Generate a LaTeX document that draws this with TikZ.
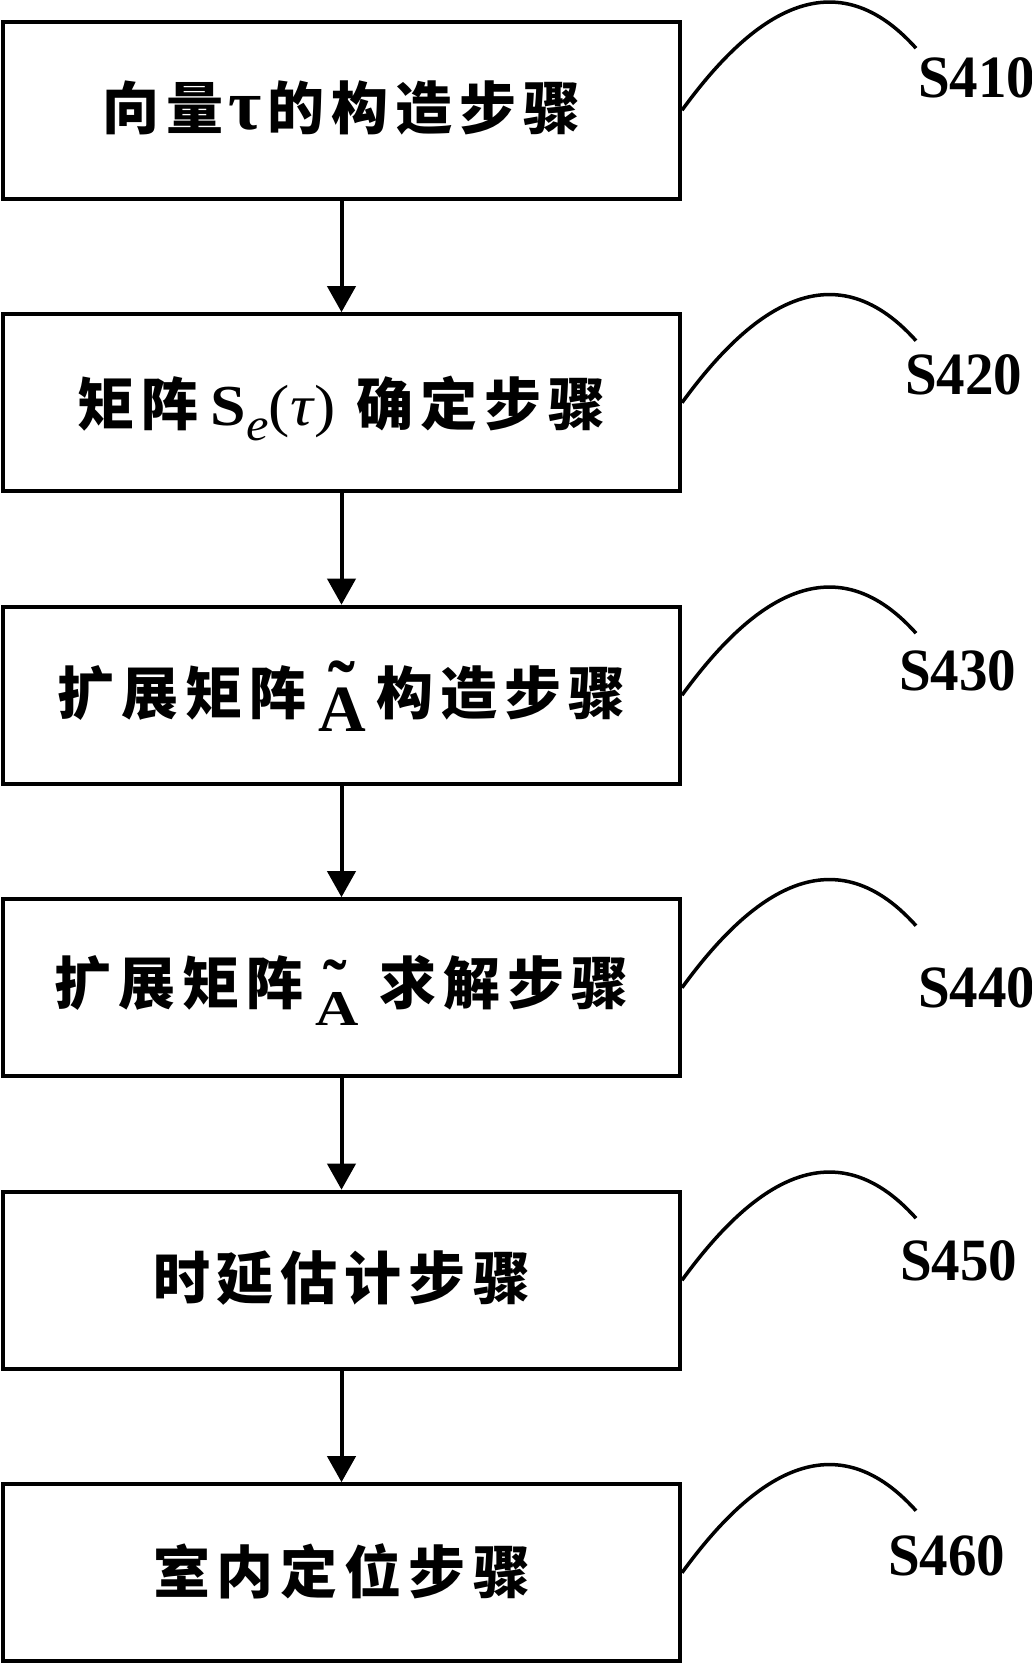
\documentclass[tikz,border=0pt]{standalone}
\usepackage{fontspec}
\usepackage{graphicx}
\setmainfont{Liberation Serif}
\newfontfamily\cjk{Noto Sans CJK SC}
\usetikzlibrary{arrows.meta,calc}
\newcommand\cgap{\hspace{7pt}}
\newcommand\cjkb{\cjk\bfseries\fontsize{57}{57}\selectfont}
% #1 size, #2 lowering, #3 tilde raise, #4 tilde shift, #5 tilde size, #6 A xscale
\newcommand\tA[6]{\raisebox{-#2}{\rmfamily\bfseries
  \rlap{\hspace{#4}\raisebox{#3}{\fontsize{#5}{#5}\selectfont ˜}}%
  \fontsize{#1}{#1}\selectfont\scalebox{#6}[1]{A}}}
\begin{document}
\begin{tikzpicture}[x=1pt,y=-1pt,
  stepbox/.style={draw, line width=4pt, minimum width=677pt, minimum height=177pt,
    inner sep=0pt, text depth=0pt, text height=40pt},
  flow/.style={line width=4pt, -{Triangle[width=28pt,length=26pt]}},
  leader/.style={line width=3.5pt},
  lab/.style={anchor=base west, inner sep=0pt, font=\bfseries\fontsize{60}{60}\selectfont}]
\useasboundingbox (0,0) rectangle (1031,1664);

\node[stepbox, text height=38pt] (b1) at (341.5,110.2)
  {{\cjkb 向\cgap 量}\hspace{5pt}{\bfseries\fontsize{72}{72}\selectfont τ}\hspace{5pt}{\cjkb 的\cgap 构\cgap 造\cgap 步\cgap 骤}};
\node[stepbox, text height=45pt] (b2) at (341.5,402.7)
  {{\cjkb 矩\cgap 阵}\hspace{12pt}\scalebox{1.1}[1]{\fontsize{58}{58}\selectfont\textbf{S}\raisebox{-15pt}{\fontsize{46}{46}\selectfont\itshape e}(\textit{τ})}\hspace{20pt}{\cjkb 确\cgap 定\cgap 步\cgap 骤}};
\node[stepbox, text height=38pt] (b3) at (341.5,695.2)
  {{\cjkb 扩\cgap 展\cgap 矩\cgap 阵}\hspace{12pt}\tA{66pt}{17.5pt}{15pt}{10pt}{80pt}{1}\hspace{10pt}{\cjkb 构\cgap 造\cgap 步\cgap 骤}};
\node[stepbox, text height=34pt] (b4) at (341.5,987.7)
  {{\cjkb 扩\cgap 展\cgap 矩\cgap 阵}\hspace{12pt}\tA{50pt}{20.5pt}{17pt}{8pt}{70pt}{1.2}\hspace{20pt}{\cjkb 求\cgap 解\cgap 步\cgap 骤}};
\node[stepbox, text height=38pt] (b5) at (341.5,1280.2)
  {\cjkb 时\cgap 延\cgap 估\cgap 计\cgap 步\cgap 骤};
\node[stepbox, text height=41pt] (b6) at (341.5,1572.7)
  {\cjkb 室\cgap 内\cgap 定\cgap 位\cgap 步\cgap 骤};

\draw[flow] (b1.south) -- (b2.north);
\draw[flow] (b2.south) -- (b3.north);
\draw[flow] (b3.south) -- (b4.north);
\draw[flow] (b4.south) -- (b5.north);
\draw[flow] (b5.south) -- (b6.north);

\node[lab] (l1) at (918,98) {\scalebox{0.95}[1]{S410}};
\node[lab] (l2) at (905,394) {\scalebox{0.95}[1]{S420}};
\node[lab] (l3) at (899,690) {\scalebox{0.95}[1]{S430}};
\node[lab] (l4) at (918,1007) {\scalebox{0.95}[1]{S440}};
\node[lab] (l5) at (900,1280) {\scalebox{0.95}[1]{S450}};
\node[lab] (l6) at (888,1575) {\scalebox{0.95}[1]{S460}};

\foreach \i in {1,...,6}{
  \coordinate (e\i) at ($(b\i.east)+(234,-62)$);
  \draw[leader] (b\i.east) .. controls +(64,-88) and +(-86,-96) .. (e\i);
}
\end{tikzpicture}
\end{document}
